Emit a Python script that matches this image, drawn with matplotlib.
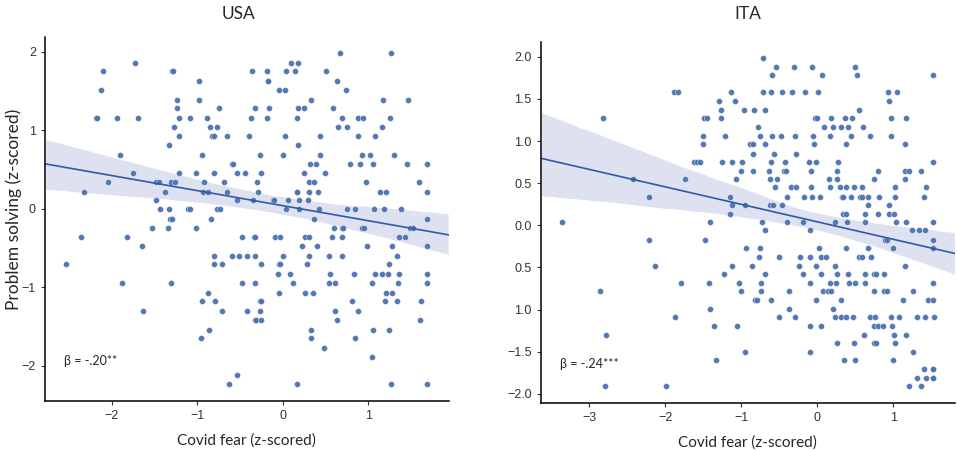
import numpy as np
import matplotlib
matplotlib.use("Agg")
import matplotlib.pyplot as plt
from matplotlib.collections import PolyCollection
import seaborn as sns

# USA: covid fear (x) and problem solving (y)
usa_fear = [
    0.67, 1.26,
    -1.73, 0.09, 0.18,
    -2.10, -1.29, -1.28, -0.36, -0.19, 0.04, 0.14, 0.51,
    -0.98, -0.17, -0.17, 0.63,
    -2.12, -0.04, 0.02, 0.74,
    -1.24, -0.98, 0.33, 1.17, 1.46,
    -1.24, -0.75, -0.33, -0.16, 0.18, 0.25, 0.59,
    -2.18, -2.17, -1.94, -1.69, -1.21, -1.09, -0.89, -0.37, -0.19, 0.17, 0.69, 0.88, 0.94, 1.25,
    -1.27, -0.85, -0.77, 0.65, 0.75, 1.16,
    -1.21, -0.83, -0.80, -0.65, -0.40, 0.02, 0.43, 0.88, 1.08,
    -1.33, 0.18,
    -1.90, -0.95, -0.27, 0.00, 0.44, 0.92, 1.02, 1.30,
    -0.59, -0.58, 0.32, 0.39, 0.79, 0.90, 1.05, 1.45, 1.68,
    -1.75, -1.21, -1.01, -0.80, -0.53, -0.44, -0.25, 0.25, 0.49,
    -2.04, -1.48, -1.45, -1.31, -1.26, -0.92, -0.69, -0.30, 0.30, 0.36, 0.97, 1.59,
    -2.32, -1.38, -0.93, -0.87, -0.65, -0.29, 0.17, 0.17, 0.31, 0.41, 1.13, 1.20, 1.68,
    -1.48, -0.53, -0.35, -0.12, -0.10, 0.06, 0.19, 0.29,
    -1.43, -1.33, -1.11, -1.09, -0.77, -0.74, 0.04, 0.19, 0.42, 0.75, 0.84, 1.06, 1.18, 1.38,
    -1.32, -1.29, -0.84, 0.36, 1.68,
    -1.53, -1.34, -1.02, 0.60, 0.69, 0.70, 0.92, 0.95, 1.49, 1.52,
    -2.36, -1.82, -0.48, -0.34, -0.32, -0.09, -0.03, 0.26, 0.30, 0.58, 0.69, 1.36, 1.43,
    -1.65, 0.22, 0.40, 0.98, 1.27, 1.68,
    -0.81, -0.59, -0.51, -0.42, -0.33, 0.00, 0.30, 0.54, 0.69, 1.34,
    -2.54, -0.80, -0.71, -0.25, -0.05, -0.03, 0.28, 1.24,
    -0.06, 0.08, 0.55, 0.83, 1.08, 1.16, 1.23, 1.36, 1.68,
    -1.88, -1.31, -0.48, -0.33, 0.12, 0.54, 0.61, 1.04, 1.35, 1.68,
    -0.88, -0.05, 0.26, 0.35, 1.20, 1.27,
    -0.94, -0.79, -0.27, -0.25, 0.81, 1.19, 1.34, 1.61,
    -1.64, -0.71, -0.42, -0.27, 0.61, 0.88,
    -0.33, -0.31, -0.25, 0.63, 1.60,
    -0.86, 0.33, 1.05, 1.24,
    -0.96, 0.33, 0.84,
    0.48,
    1.04,
    -0.53,
    -0.63, 0.17, 1.26, 1.68,
]
usa_solving = (
    [1.98] * 2 + [1.86] * 3 + [1.75] * 8 + [1.63] * 4 + [1.51] * 4
    + [1.39] * 5 + [1.28] * 7 + [1.16] * 14 + [1.04] * 6 + [0.93] * 9
    + [0.81] * 2 + [0.69] * 8 + [0.57] * 9 + [0.45] * 9 + [0.34] * 12
    + [0.22] * 13 + [0.11] * 8 + [0.00] * 14 + [-0.13] * 5 + [-0.25] * 10
    + [-0.36] * 13 + [-0.48] * 6 + [-0.60] * 10 + [-0.71] * 8 + [-0.83] * 9
    + [-0.95] * 10 + [-1.07] * 6 + [-1.18] * 8 + [-1.30] * 6 + [-1.42] * 5
    + [-1.54] * 4 + [-1.65] * 3 + [-1.77] * 1 + [-1.89] * 1 + [-2.12] * 1
    + [-2.24] * 4
)

# ITA
ita_fear = [
    -0.72,
    -0.54, -0.31, -0.07, 0.49,
    -0.60, 0.06, 0.52, 1.52,
    -1.89, -1.83, -1.14, -0.71, -0.61, -0.47, -0.34, -0.17, 0.01, 0.93, 1.05,
    -1.30, -1.08, 0.94,
    -1.27, -0.96, -0.84, -0.69, 0.54,
    -2.82, -1.49, -1.45, -1.27, -0.03, 0.00, 0.18, 0.36, 0.46, 0.97, 1.16,
    -0.78, 0.08, 0.20, 0.31, 0.40, 0.60,
    -1.50, -1.21, -0.75, -0.60, -0.48, -0.30, -0.06, 0.17, 0.44, 0.69, 0.97,
    -1.51, -0.89, -0.85, -0.69, -0.04, 0.37, 1.15,
    -0.85, -0.57, -0.28,
    -1.62, -1.59, -1.54, -1.26, -1.12, -0.99, -0.61, -0.43, -0.11, -0.02, 0.27, 1.52,
    -1.00, -0.85, -0.64, -0.44, -0.42, -0.09, 0.26, 0.79, 1.15, 1.20, 1.36,
    -2.42, -1.74, -1.07, -0.62, -0.53, 0.15, 0.26, 0.75, 1.15,
    -0.56, -0.35, -0.28, -0.08, 0.16, 0.29, 0.38, 0.48, 0.58, 1.02, 1.43,
    -2.21, -1.15, -0.40, -0.18, -0.07, 0.03, 0.32, 0.34, 0.44, 0.56, 0.58, 0.66, 0.81, 1.02, 1.40,
    -1.13, -0.95, -0.62, -0.58, -0.46, 0.67, 0.94,
    -1.15, 0.33, 0.37, 0.62, 0.80, 0.94, 1.01,
    -3.36, -1.41, -0.73, -0.40, -0.19, 0.23, 0.39, 0.63, 1.03, 1.16, 1.52,
    -0.69, -0.10, 1.24, 1.34, 1.41,
    -2.21, -1.48, 0.89, 0.92, 1.52,
    -0.94, -0.76, 0.02, 0.38, 0.66, 0.99, 1.52,
    -0.77, -0.51, -0.23, -0.10, 0.04, 0.11, 0.55, 0.59, 0.71,
    -2.14, -1.12, -0.86, -0.24, -0.02, 0.23, 1.15,
    -1.23, -0.69, -0.19, 0.05, 0.26, 0.40, 0.62, 0.75, 0.77, 0.87,
    -1.80, -1.43, -1.03, -0.74, -0.10, 0.17, 0.25, 0.42, 0.49, 0.62, 1.52,
    -2.86, -1.00, -0.74, -0.38, 0.07, 0.14, 0.18, 0.75, 0.88, 0.91, 1.25,
    -0.82, -0.79, -0.61, -0.02, 0.31, 1.13, 1.45, 1.52,
    -1.41, -0.38, 0.20,
    -1.87, -0.50, -0.30, 0.23, 0.31, 0.37, 0.47, 0.69, 0.76, 0.97, 1.07, 1.31, 1.42, 1.53,
    -1.36, -1.06, -0.10, 0.05, 0.74, 0.80, 0.86, 0.98,
    -2.78, 0.61, 1.01, 1.17,
    0.26, 0.48, 0.75, 0.77, 1.02,
    -0.95, -0.10, 1.25,
    -1.33, 0.35, 0.50, 0.99,
    1.40, 1.52, 1.52,
    1.31, 1.43, 1.52, 1.52,
    -2.79, -1.99, 1.20, 1.36,
]
ita_solving = (
    [1.99] * 1 + [1.88] * 4 + [1.78] * 4 + [1.58] * 11 + [1.48] * 3
    + [1.37] * 5 + [1.27] * 11 + [1.17] * 6 + [1.06] * 11 + [0.96] * 7
    + [0.85] * 3 + [0.75] * 12 + [0.65] * 11 + [0.55] * 9 + [0.45] * 11
    + [0.34] * 15 + [0.24] * 7 + [0.14] * 7 + [0.04] * 11 + [-0.06] * 5
    + [-0.17] * 5 + [-0.27] * 7 + [-0.37] * 9 + [-0.48] * 7 + [-0.58] * 10
    + [-0.68] * 11 + [-0.78] * 11 + [-0.88] * 8 + [-0.99] * 3 + [-1.09] * 14
    + [-1.19] * 8 + [-1.30] * 4 + [-1.40] * 5 + [-1.50] * 3 + [-1.60] * 4
    + [-1.71] * 3 + [-1.81] * 4 + [-1.91] * 4
)

ita_ytick_values = [-2.0, -1.5, -1.0, -0.5, 0.0, 0.5, 1.0, 1.5, 2.0]
# the published figure lost the minus on -1.0 and -0.5
ita_ytick_labels = ['\u22122.0', '\u22121.5', '1.0', '0.5', '0.0', '0.5', '1.0', '1.5', '2.0']

panels = [
    ('USA', usa_fear, usa_solving, '\u03b2 = -.20**', (-2.78, 1.94), (-2.45, 2.19), 0.478, 13),
    ('ITA', ita_fear, ita_solving, '\u03b2 = -.24***', (-3.64, 1.81), (-2.11, 2.17), 0.5, 17),
]

sns.set_style('ticks')
plt.rcParams['font.family'] = ['Liberation Sans', 'DejaVu Sans']
label_font = ['Lato', 'DejaVu Sans']

fig = plt.figure(figsize=(9.57, 4.51), dpi=100)
axes = [
    fig.add_axes([0.047, 0.111, 0.422, 0.807]),
    fig.add_axes([0.565, 0.106, 0.433, 0.800]),
]

for ax, (title, fear, solving, beta, xlim, ylim, title_x, title_pad) in zip(axes, panels):
    ax.set_xlim(*xlim)
    ax.set_ylim(*ylim)
    sns.regplot(
        x=np.array(fear), y=np.array(solving), ax=ax, truncate=False,
        color='#4c72b0', seed=0,
        scatter_kws={'s': 19, 'alpha': 0.95, 'linewidths': 0.3, 'edgecolor': 'white'},
        line_kws={'lw': 1.2, 'color': '#2f5aa8'},
    )
    for coll in ax.collections:
        if isinstance(coll, PolyCollection):
            coll.set_facecolor('#dde1f0')
            coll.set_alpha(1)
            coll.set_zorder(0.5)
    ax.set_title(title, family=label_font, fontsize=12.5, pad=title_pad, x=title_x)
    ax.set_xlabel('Covid fear (z-scored)', family=label_font, fontsize=11, labelpad=8)
    ax.set_ylabel('')
    ax.text(0.047, 0.11, beta, transform=ax.transAxes, family=label_font,
            fontsize=9, va='center')
    sns.despine(ax=ax)
    for side in ('left', 'bottom'):
        ax.spines[side].set_linewidth(1.1)
        ax.spines[side].set_color('black')
    ax.tick_params(labelsize=9, length=3, width=0.8, colors='#333333', labelcolor='#333333')

axes[0].set_xticks([-2, -1, 0, 1])
axes[0].set_yticks([-2, -1, 0, 1, 2])
axes[0].set_ylabel('Problem solving (z-scored)', family=label_font, fontsize=12.5)
axes[0].yaxis.set_label_coords(-0.058, 0.525)
axes[1].set_xticks([-3, -2, -1, 0, 1])
axes[1].set_yticks(ita_ytick_values, ita_ytick_labels)

fig.savefig('out.png', dpi=100)
